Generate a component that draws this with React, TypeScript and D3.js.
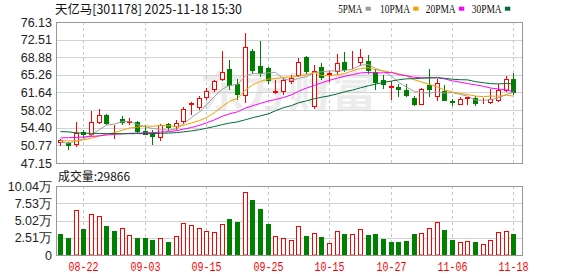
import React, { useEffect } from "react";
import * as d3 from "d3";

const dates = [
  "08-19","08-20","08-21","08-22","08-25","08-26","08-27","08-28","08-29","09-01",
  "09-02","09-03","09-04","09-05","09-08","09-09","09-10","09-11","09-12","09-15",
  "09-16","09-17","09-18","09-19","09-22","09-23","09-24","09-25","09-26","09-29",
  "09-30","10-09","10-10","10-13","10-14","10-15","10-16","10-17","10-20","10-21",
  "10-22","10-23","10-24","10-27","10-28","10-29","10-30","10-31","11-03","11-04",
  "11-05","11-06","11-07","11-10","11-11","11-12","11-13","11-14","11-17","11-18",
];

const openP = [51.5,51.25,51.1,53.55,53.2,55.65,57.05,54.45,56.1,55.65,55.5,53.75,53.1,52.55,55.2,54.8,55.8,59.2,58.7,60.8,62.3,64.35,66.47,63.45,61.19,70.2,67.0,66.7,61.65,62.0,63.96,65.3,68.88,58.9,66.85,65.45,66.0,67.95,67.45,67.85,68.1,65.9,64.3,62.85,62.75,62.2,60.6,59.3,63.1,60.9,62.0,59.85,59.3,60.55,60.55,59.8,59.75,60.05,62.1,64.35];
const highP = [52.1,51.5,55.5,54.0,57.8,58.3,57.15,55.0,56.85,56.5,55.7,55.05,53.85,55.2,55.3,55.9,58.6,59.7,61.0,62.5,64.2,70.1,68.3,64.35,73.87,70.6,72.3,66.9,64.2,64.6,65.3,68.7,69.15,67.3,67.65,66.15,69.6,69.9,70.2,70.6,69.3,66.4,65.3,64.1,63.4,63.3,60.9,62.65,66.5,64.4,63.1,60.4,60.7,60.75,60.85,60.5,62.4,63.3,65.1,65.75];
const lowP = [50.85,50.05,50.7,52.55,52.9,55.3,55.2,52.35,55.2,55.2,53.55,53.1,51.1,51.9,54.0,54.05,55.4,57.2,58.2,60.4,62.0,64.15,62.3,60.37,59.69,65.6,65.1,63.6,61.5,61.3,63.6,64.95,65.6,58.5,64.4,63.95,65.6,66.0,66.65,67.3,65.6,62.3,62.6,60.3,60.85,61.0,59.0,59.2,61.0,60.1,60.1,59.1,59.2,59.3,59.0,59.4,59.4,59.85,61.95,61.4];
const closeP = [51.8,50.85,53.4,53.1,55.65,57.05,55.4,54.6,55.65,55.85,53.75,53.2,52.7,55.0,54.65,55.3,58.3,59.4,60.5,62.05,63.95,65.85,63.12,61.39,70.99,66.3,65.6,64.2,61.85,64.2,64.6,67.85,65.98,66.15,64.8,65.7,67.65,66.45,67.6,68.95,66.3,63.75,63.3,62.95,62.45,61.2,59.3,62.35,62.35,63.5,60.2,59.7,60.4,60.7,59.4,59.95,60.4,62.15,64.35,61.7];

// volume in 万 shares
const volume = [3.04,2.46,6.61,3.77,6.03,5.74,4.2,3.48,4.0,2.85,2.46,2.46,2.17,2.41,1.88,2.7,4.63,4.3,3.86,3.43,3.28,4.44,5.21,4.78,9.22,7.96,6.66,4.49,2.75,2.41,2.17,4.2,2.75,3.19,2.61,1.74,3.43,3.04,3.04,3.72,2.9,3.04,2.32,1.93,1.93,2.03,3.04,3.19,3.91,4.73,3.62,2.17,1.88,2.03,1.93,1.59,2.17,3.33,3.48,2.9866];
// volume bar direction as shown (1 = rising/red, 0 = falling/green)
const volRise = [0,0,1,0,1,1,0,0,1,1,0,0,0,1,0,1,1,1,1,1,1,1,0,0,1,0,0,0,1,1,1,1,0,1,0,1,1,0,1,1,0,0,0,0,0,0,0,1,1,1,0,0,1,1,0,1,1,1,1,0];

const ma5 = [51.40,51.25,51.65,52.10,52.96,54.01,54.92,55.16,55.67,55.71,55.05,54.61,54.23,54.10,53.86,54.17,55.19,56.53,57.63,59.11,60.84,62.35,63.09,63.27,65.06,65.53,65.48,65.70,65.79,64.43,64.09,64.54,64.90,65.76,65.88,66.10,66.06,66.15,66.44,67.27,67.39,66.61,65.98,65.05,63.75,62.73,61.84,61.65,61.53,61.74,61.54,61.62,61.23,60.90,60.08,60.03,60.17,60.52,61.25,61.71];
const ma10 = [51.75,51.70,51.75,51.90,52.25,52.70,53.05,53.40,53.90,54.34,54.53,54.77,54.70,54.89,54.79,54.61,54.90,55.38,55.87,56.49,57.51,58.77,59.81,60.45,62.09,63.19,63.92,64.40,64.53,64.75,64.81,65.01,65.30,65.77,65.15,65.09,65.30,65.52,66.10,66.57,66.74,66.33,66.07,65.75,65.51,65.06,64.23,63.82,63.29,62.75,62.14,61.73,61.44,61.22,60.91,60.79,60.90,60.88,61.08,60.90];
const ma20 = [52.30,52.35,52.40,52.50,52.60,52.75,52.90,53.05,53.15,53.25,53.30,53.35,53.40,53.50,53.60,53.80,54.10,54.45,54.90,55.41,56.02,56.77,57.25,57.67,58.44,58.90,59.41,59.89,60.20,60.62,61.16,61.89,62.55,63.11,63.62,64.14,64.61,64.96,65.31,65.66,65.78,65.67,65.68,65.76,65.33,65.08,64.76,64.67,64.69,64.66,64.44,64.03,63.75,63.48,63.21,62.92,62.56,62.35,62.18,61.82];
const ma30 = [53.60,53.55,53.35,53.30,53.25,53.22,53.18,53.20,53.16,53.18,53.20,53.17,53.20,53.25,53.30,53.40,53.55,53.75,54.00,54.30,54.65,55.05,55.35,55.60,56.05,56.45,56.85,57.25,57.90,58.52,58.95,59.52,59.93,60.37,60.67,60.96,61.37,61.77,62.16,62.60,63.02,63.37,63.72,63.99,64.25,64.45,64.48,64.58,64.64,64.69,64.56,64.36,64.27,64.24,63.86,63.65,63.47,63.40,63.49,63.40];

const priceTicks = [76.13, 72.51, 68.88, 65.26, 61.64, 58.02, 54.40, 50.77, 47.15];
const volTicks = [10.04, 7.53, 5.02, 2.51, 0];
const xTickLabels = ["08-22", "09-03", "09-15", "09-25", "10-15", "10-27", "11-06", "11-18"];
const maNames = ["5PMA", "10PMA", "20PMA", "30PMA"];
const title = "天亿马[301178] 2025-11-18 15:30";
const volTitle = "成交量:29866";

const RED = "#ff0000";
const GREEN = "#008000";
const MA_COLORS = ["#a0a0a0", "#f5a000", "#ff00ff", "#006e32"];

export default function App() {
  useEffect(() => {
    document.body.style.margin = "0";
  }, []);

  const W = 578, H = 276;
  const L = 56.5, R = 522.5, T = 22, B = 163, VT = 186, VB = 255;

  const x = d3.scaleBand<string>().domain(dates).range([56.46, 517.26]).paddingInner(0.35).paddingOuter(0.175);
  const cx = (d: string) => Math.round((x(d) as number) + x.bandwidth() / 2);
  const y = d3.scaleLinear().domain([47.15, 76.13]).range([B, T]);
  const yv = d3.scaleLinear().domain([0, 10.04]).range([VB, VT]);
  const py = (v: number) => Math.round(y(v)) + 0.5;

  const mas = [ma5, ma10, ma20, ma30];
  const line = d3.line<number>().x((_, i) => cx(dates[i]) + 0.5).y((v) => y(v));

  const legendX = [338.3, 380, 425.7, 471.7];
  const legendW = [24, 30, 30, 30];

  return (
    <div style={{ position: "absolute", left: 0, top: 0 }}>
      <svg width={W} height={H} style={{ display: "block", background: "#fff" }} fontFamily="'Liberation Sans', Arial, sans-serif">
        {/* title */}
        <text x={55} y={14} fontSize={12.5} fontFamily="'Noto Sans CJK SC', sans-serif" fill="#111" textLength={187} lengthAdjust="spacingAndGlyphs">{title}</text>
        {/* legend */}
        {maNames.map((n, i) => (
          <g key={n}>
            <text x={legendX[i]} y={12.7} fontSize={13} fontFamily="'Liberation Serif', serif" fill="#111" textLength={legendW[i]} lengthAdjust="spacingAndGlyphs">{n}</text>
            <rect x={legendX[i] + legendW[i] + 3.2} y={6.7} width={5.4} height={4} fill={MA_COLORS[i]} />
          </g>
        ))}

        {/* watermark */}
        <text x={200} y={107} fontSize={42} fontWeight="bold" fontFamily="'Noto Sans CJK SC', sans-serif" fill="#ececec" textLength={176} lengthAdjust="spacingAndGlyphs">东方财富</text>

        {/* price grid */}
        {priceTicks.map((t) => (
          <line key={"pg" + t} x1={L} x2={R} y1={py(t)} y2={py(t)} stroke="#d2d2d2" />
        ))}
        {xTickLabels.map((d) => (
          <g key={"vg" + d}>
            <line x1={cx(d) + 0.5} x2={cx(d) + 0.5} y1={T} y2={B} stroke="#c8c8c8" strokeDasharray="3,3" />
            <line x1={cx(d) + 0.5} x2={cx(d) + 0.5} y1={VT} y2={VB} stroke="#c8c8c8" strokeDasharray="3,3" />
          </g>
        ))}
        {priceTicks.map((t) => (
          <text key={"pl" + t} x={52} y={y(t)} dy="0.36em" textAnchor="end" fontSize={12.5} fill="#222">{t.toFixed(2)}</text>
        ))}

        {/* candles */}
        {dates.map((d, i) => {
          const c = cx(d);
          const up = closeP[i] >= openP[i];
          const col = up ? RED : GREEN;
          const top = py(Math.max(openP[i], closeP[i]));
          const bot = py(Math.min(openP[i], closeP[i]));
          const hi = py(highP[i]);
          const lo = py(lowP[i]);
          return (
            <g key={"c" + d}>
              <line x1={c + 0.5} x2={c + 0.5} y1={hi - 0.5} y2={lo + 0.5} stroke={col} />
              {up ? (
                <rect x={c - 1.5} y={top} width={4} height={Math.max(0, bot - top)} fill="#fff" stroke={col} />
              ) : (
                <rect x={c - 2} y={top - 0.5} width={5} height={Math.max(1, bot - top + 1)} fill={col} />
              )}
            </g>
          );
        })}

        {/* moving averages */}
        {mas.map((m, k) => (
          <path key={"ma" + k} d={line(m) as string} fill="none" stroke={MA_COLORS[k]} strokeWidth={1} />
        ))}

        {/* price frame */}
        <rect x={L} y={T + 0.5} width={R - L} height={B - T} fill="none" stroke="#999" />

        {/* volume panel */}
        <text x={58} y={181} fontSize={12} fontFamily="'Noto Sans CJK SC', sans-serif" fill="#111" textLength={72} lengthAdjust="spacingAndGlyphs">{volTitle}</text>
        {volTicks.map((t) => (
          <line key={"vgl" + t} x1={L} x2={R} y1={Math.round(yv(t)) + 0.5} y2={Math.round(yv(t)) + 0.5} stroke="#d2d2d2" />
        ))}
        {volTicks.map((t) => (
          <text key={"vl" + t} x={52} y={yv(t)} dy="0.36em" textAnchor="end" fontSize={12.5} fill="#222">{t === 0 ? "0" : t.toFixed(2) + "万"}</text>
        ))}
        {dates.map((d, i) => {
          const c = cx(d);
          const top = Math.round(yv(volume[i])) + 0.5;
          return volRise[i] ? (
            <rect key={"v" + d} x={c - 1.5} y={top} width={4} height={VB - top} fill="#fff" stroke={RED} />
          ) : (
            <rect key={"v" + d} x={c - 2} y={top - 0.5} width={5} height={VB - top + 0.5} fill={GREEN} />
          );
        })}
        <rect x={L} y={VT + 0.5} width={R - L} height={VB - VT} fill="none" stroke="#999" />

        {/* x labels */}
        {xTickLabels.map((d) => (
          <text key={"xl" + d} x={cx(d) + 0.5} y={271} textAnchor="middle" fontSize={12} fontFamily="'Liberation Mono', monospace" fill={RED} textLength={30} lengthAdjust="spacingAndGlyphs">{d}</text>
        ))}
      </svg>
    </div>
  );
}
